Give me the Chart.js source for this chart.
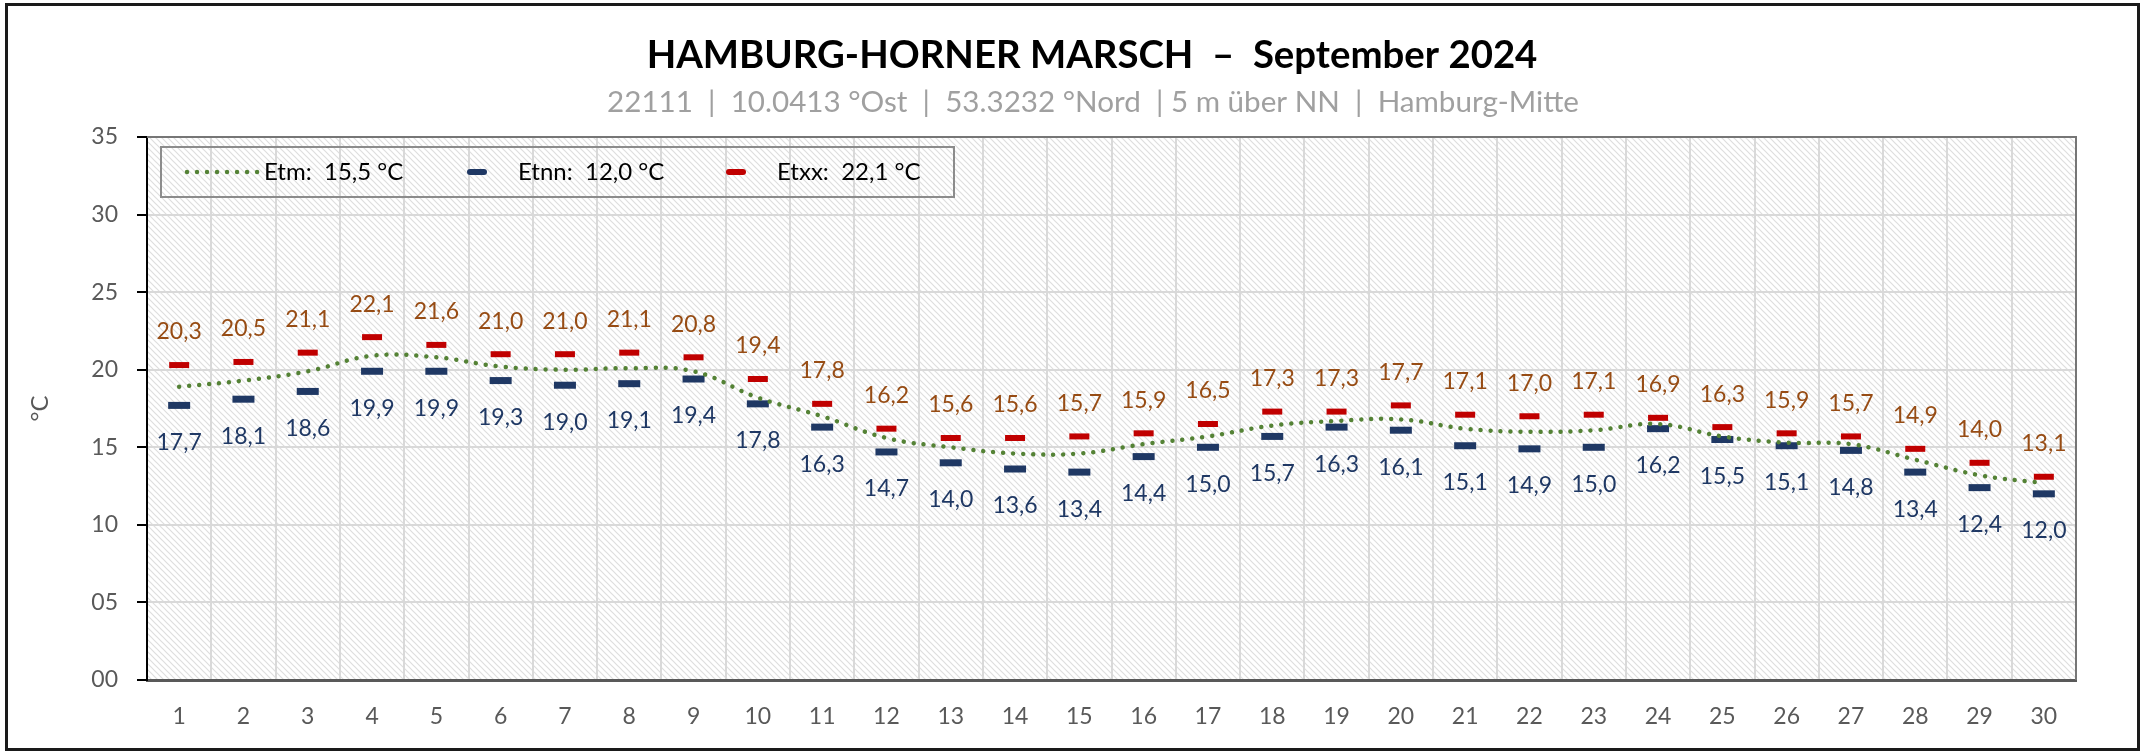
<!DOCTYPE html>
<html lang="de">
<head>
    <meta charset="UTF-8">
    <title>Hamburg-Horner Marsch - September 2024</title>
    <script src="https://cdn.jsdelivr.net/npm/chart.js"></script>
    <style>
        body {
            margin: 0;
            padding: 0;
            background: #ffffff;
        }
        .wrap {
            position: relative;
            width: 2146px;
            height: 752px;
        }
    </style>
</head>
<body>
    <div class="wrap">
        <canvas id="tempChart"></canvas>
    </div>

    <script>
        // Daten September 2024
        const days = ['1','2','3','4','5','6','7','8','9','10','11','12','13','14','15',
                      '16','17','18','19','20','21','22','23','24','25','26','27','28','29','30'];
        const etxx = [20.3, 20.5, 21.1, 22.1, 21.6, 21.0, 21.0, 21.1, 20.8, 19.4,
                      17.8, 16.2, 15.6, 15.6, 15.7, 15.9, 16.5, 17.3, 17.3, 17.7,
                      17.1, 17.0, 17.1, 16.9, 16.3, 15.9, 15.7, 14.9, 14.0, 13.1];
        const etnn = [17.7, 18.1, 18.6, 19.9, 19.9, 19.3, 19.0, 19.1, 19.4, 17.8,
                      16.3, 14.7, 14.0, 13.6, 13.4, 14.4, 15.0, 15.7, 16.3, 16.1,
                      15.1, 14.9, 15.0, 16.2, 15.5, 15.1, 14.8, 13.4, 12.4, 12.0];
        const etm  = [18.9, 19.3, 19.9, 20.9, 20.8, 20.2, 20.0, 20.1, 19.9, 18.2,
                      17.0, 15.6, 15.0, 14.6, 14.6, 15.2, 15.7, 16.4, 16.7, 16.8,
                      16.2, 16.0, 16.1, 16.5, 15.7, 15.3, 15.2, 14.2, 13.2, 12.7];
        const yTicks = [0, 5, 10, 15, 20, 25, 30, 35];

        const titleText = 'HAMBURG-HORNER MARSCH  \u2013  September 2024';
        const subTitleText = '22111  |  10.0413 \u00B0Ost  |  53.3232 \u00B0Nord  | 5 m \u00FCber NN  |  Hamburg-Mitte';
        const legendItems = [
            { text: 'Etm:  15,5 \u00B0C', kind: 'dots', color: '#548235' },
            { text: 'Etnn:  12,0 \u00B0C', kind: 'dash', color: '#1F3864' },
            { text: 'Etxx:  22,1 \u00B0C', kind: 'dash', color: '#C00000' }
        ];

        const FONT = 'Lato, "Open Sans", sans-serif';

        // Schraffur fuer den Plotbereich
        const makeHatch = () => {
            const c = document.createElement('canvas');
            c.width = 6;
            c.height = 6;
            const g = c.getContext('2d');
            g.fillStyle = '#ffffff';
            g.fillRect(0, 0, 6, 6);
            g.strokeStyle = '#dedede';
            g.lineWidth = 1.2;
            g.beginPath();
            g.moveTo(-1, -1); g.lineTo(7, 7);
            g.moveTo(-1, 5); g.lineTo(1, 7);
            g.moveTo(5, -1); g.lineTo(7, 1);
            g.stroke();
            return g.createPattern(c, 'repeat');
        };

        // Text so skalieren, dass er eine Zielbreite hat
        const fitFont = (ctx, text, weight, baseSize, targetWidth) => {
            ctx.font = `${weight} ${baseSize}px ${FONT}`;
            const w = ctx.measureText(text).width;
            return baseSize * targetWidth / w;
        };

        const decoPlugin = {
            id: 'deco',
            beforeDraw(chart) {
                const { ctx, chartArea } = chart;
                ctx.save();
                ctx.fillStyle = '#ffffff';
                ctx.fillRect(0, 0, chart.width, chart.height);
                ctx.fillStyle = makeHatch();
                ctx.fillRect(chartArea.left, chartArea.top,
                             chartArea.right - chartArea.left, chartArea.bottom - chartArea.top);

                // Aussenrahmen
                ctx.strokeStyle = '#1a1a1a';
                ctx.lineWidth = 3;
                ctx.strokeRect(6.5, 4.5, 2132, 745);

                // Titel und Untertitel
                ctx.textAlign = 'center';
                ctx.textBaseline = 'middle';
                ctx.fillStyle = '#000000';
                let size = fitFont(ctx, titleText, 'bold', 36, 891);
                ctx.font = `bold ${size}px ${FONT}`;
                ctx.fillText(titleText, 1092, 56);

                ctx.fillStyle = '#a0a0a0';
                size = fitFont(ctx, subTitleText, 'normal', 26, 972);
                ctx.font = `normal ${size}px ${FONT}`;
                ctx.fillText(subTitleText, 1093, 102);
                ctx.restore();
            },
            beforeDatasetsDraw(chart) {
                const { ctx, chartArea } = chart;
                ctx.save();
                ctx.strokeStyle = '#767676';
                ctx.lineWidth = 2;
                ctx.beginPath();
                ctx.moveTo(chartArea.left, chartArea.top);
                ctx.lineTo(chartArea.right, chartArea.top);
                ctx.lineTo(chartArea.right, chartArea.bottom);
                ctx.stroke();
                ctx.restore();
            },
            afterDatasetsDraw(chart) {
                const { ctx } = chart;
                ctx.save();
                ctx.font = `normal 23px ${FONT}`;
                ctx.textAlign = 'center';
                ctx.textBaseline = 'middle';

                // Maxima ueber, Minima unter dem Strich
                const maxMeta = chart.getDatasetMeta(2);
                ctx.fillStyle = '#974C14';
                maxMeta.data.forEach((pt, i) => {
                    ctx.fillText(etxx[i].toFixed(1).replace('.', ','), pt.x, pt.y - 33);
                });
                const minMeta = chart.getDatasetMeta(1);
                ctx.fillStyle = '#1F3864';
                minMeta.data.forEach((pt, i) => {
                    ctx.fillText(etnn[i].toFixed(1).replace('.', ','), pt.x, pt.y + 37);
                });
                ctx.restore();
            },
            afterDraw(chart) {
                const { ctx } = chart;
                ctx.save();
                // Legendenkasten
                ctx.strokeStyle = '#8c8c8c';
                ctx.lineWidth = 2;
                ctx.strokeRect(161, 147, 793, 50);

                const y = 172;
                ctx.font = `normal 24px ${FONT}`;
                ctx.textBaseline = 'middle';
                ctx.textAlign = 'left';
                const symX = [187, 467, 726];
                const textX = [264, 518, 777];
                legendItems.forEach((item, i) => {
                    if (item.kind === 'dots') {
                        ctx.strokeStyle = item.color;
                        ctx.lineWidth = 4.5;
                        ctx.lineCap = 'round';
                        ctx.setLineDash([0.01, 10]);
                        ctx.beginPath();
                        ctx.moveTo(symX[i], y);
                        ctx.lineTo(symX[i] + 71, y);
                        ctx.stroke();
                        ctx.setLineDash([]);
                    } else {
                        ctx.strokeStyle = item.color;
                        ctx.lineWidth = 6;
                        ctx.lineCap = 'round';
                        ctx.beginPath();
                        ctx.moveTo(symX[i] + 3, y);
                        ctx.lineTo(symX[i] + 17, y);
                        ctx.stroke();
                    }
                    ctx.fillStyle = '#000000';
                    ctx.fillText(item.text, textX[i], y);
                });
                ctx.restore();
            }
        };

        const chartContext = document.getElementById('tempChart').getContext('2d');

        const tempChart = new Chart(chartContext, {
            type: 'line',
            data: {
                labels: days,
                datasets: [
                    {
                        label: 'Etm',
                        data: etm,
                        borderColor: '#548235',
                        borderWidth: 4.5,
                        borderDash: [0.01, 10],
                        borderCapStyle: 'round',
                        tension: 0.4,
                        pointRadius: 0,
                        fill: false
                    },
                    {
                        label: 'Etnn',
                        data: etnn,
                        showLine: false,
                        pointStyle: 'line',
                        pointRadius: 11,
                        pointBorderWidth: 7,
                        pointBorderColor: '#1F3864',
                        pointBackgroundColor: '#1F3864'
                    },
                    {
                        label: 'Etxx',
                        data: etxx,
                        showLine: false,
                        pointStyle: 'line',
                        pointRadius: 10,
                        pointBorderWidth: 6,
                        pointBorderColor: '#C00000',
                        pointBackgroundColor: '#C00000'
                    }
                ]
            },
            options: {
                responsive: true,
                maintainAspectRatio: false,
                animation: false,
                layout: {
                    padding: { top: 137, right: 70, bottom: 0, left: 0 }
                },
                plugins: {
                    legend: { display: false },
                    title: { display: false },
                    tooltip: { enabled: false }
                },
                scales: {
                    x: {
                        type: 'category',
                        offset: true,
                        grid: {
                            offset: true,
                            color: '#d9d9d9',
                            lineWidth: 2,
                            drawTicks: false
                        },
                        border: { color: '#595959', width: 3 },
                        ticks: {
                            color: '#595959',
                            font: { family: FONT, size: 23 },
                            padding: 23,
                            maxRotation: 0,
                            autoSkip: false
                        },
                        afterFit: (scale) => { scale.height = 72; }
                    },
                    y: {
                        min: 0,
                        max: 35,
                        afterBuildTicks: (scale) => {
                            scale.ticks = yTicks.map(v => ({ value: v }));
                        },
                        grid: {
                            color: '#d9d9d9',
                            lineWidth: 2,
                            tickColor: '#000000',
                            tickWidth: 2,
                            tickLength: 10
                        },
                        border: { color: '#000000', width: 2 },
                        ticks: {
                            color: '#595959',
                            font: { family: FONT, size: 23 },
                            padding: 19,
                            callback: (v) => String(v).padStart(2, '0')
                        },
                        title: {
                            display: true,
                            text: '\u00B0C',
                            color: '#595959',
                            font: { family: FONT, size: 24 },
                            padding: { top: 26, bottom: 0 }
                        },
                        afterFit: (scale) => { scale.width = 147; }
                    }
                }
            },
            plugins: [decoPlugin]
        });
    </script>
</body>
</html>
